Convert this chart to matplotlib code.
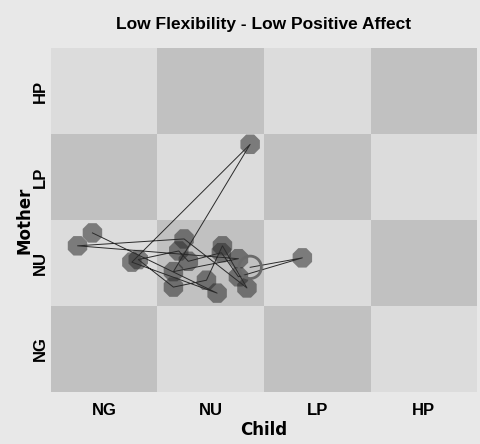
import numpy as np
import matplotlib.pyplot as plt

# categories (state space grid)
child_states = ['NG', 'NU', 'LP', 'HP']
mother_states = ['NG', 'NU', 'LP', 'HP']

# trajectory, in cell units (cell i spans [i, i+1])
child_pos = [0.39, 1.56, 0.76, 1.87, 1.15, 1.76, 0.25, 1.25, 1.84, 1.61,
             1.46, 1.15, 0.82, 1.20, 1.29, 1.60, 1.76, 2.36, 1.87]
mother_pos = [1.85, 1.15, 1.51, 2.88, 1.40, 1.55, 1.70, 1.78, 1.21, 1.70,
              1.30, 1.22, 1.54, 1.64, 1.52, 1.62, 1.34, 1.56, 1.45]

fig = plt.figure(figsize=(4.8, 4.44), dpi=100)
fig.patch.set_facecolor('#e8e8e8')
ax = fig.add_axes([0.106, 0.117, 0.888, 0.775])

# checkerboard
light, dark = '#dcdcdc', '#c1c1c1'
for i in range(len(child_states)):
    for j in range(len(mother_states)):
        c = dark if (i + j) % 2 == 0 else light
        ax.add_patch(plt.Rectangle((i, j), 1, 1, facecolor=c, edgecolor='none', zorder=0))

# lines between visits
ax.plot(child_pos, mother_pos, color='#2a2a2a', lw=0.7, zorder=2)

# visits
ax.scatter(child_pos[:-1], mother_pos[:-1], s=230, marker='8', color='#2c2c2c', alpha=0.55,
           edgecolors='none', zorder=3)
ax.scatter(child_pos[-1:], mother_pos[-1:], s=260, facecolors='none',
           edgecolors='#6a6a6a', linewidths=2.0, zorder=3)

ax.set_xlim(0, 4)
ax.set_ylim(0, 4)
ax.set_xticks(np.arange(4) + 0.5)
ax.set_xticklabels(child_states, fontsize=12, fontweight='bold', family='Liberation Sans')
ax.set_yticks(np.arange(4) + 0.5)
ax.set_yticklabels(mother_states, fontsize=12, fontweight='bold', family='Liberation Sans',
                   rotation=90, va='center')
ax.tick_params(axis='x', length=0, pad=8)
ax.tick_params(axis='y', length=0, pad=2)
for s in ax.spines.values():
    s.set_visible(False)

ax.set_xlabel('Child', fontsize=12, fontweight='bold', labelpad=2)
ax.set_ylabel('Mother', fontsize=12, fontweight='bold', labelpad=0)
ax.set_title('Low Flexibility - Low Positive Affect', fontsize=12.5, fontweight='bold',
             family='Liberation Sans', pad=14)

fig.savefig('out.png', dpi=100, facecolor=fig.get_facecolor())
